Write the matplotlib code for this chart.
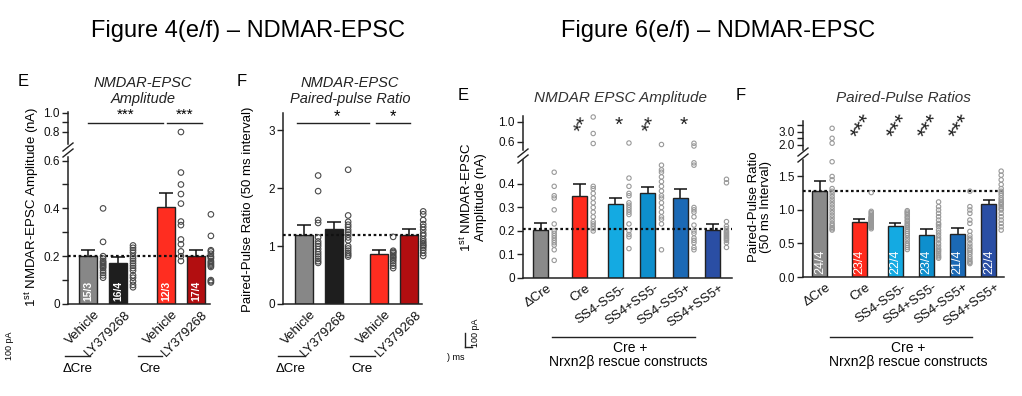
import numpy as np
import matplotlib
matplotlib.use("Agg")
import matplotlib.pyplot as plt
from matplotlib.lines import Line2D

plt.rcParams['font.family'] = ['Liberation Sans', 'DejaVu Sans']
plt.rcParams['mathtext.fontset'] = 'custom'
plt.rcParams['mathtext.rm'] = 'Liberation Sans'

# ---------------- data ----------------
fig4_labels = ["Vehicle", "LY379268", "Vehicle", "LY379268"]
fig4_groups = ["\u0394Cre", "Cre"]
fig4_colors = ["#878787", "#1e1e1e", "#ff2d20", "#b20e10"]

amp4_means = [0.20, 0.17, 0.405, 0.20]
amp4_sem = [0.025, 0.025, 0.06, 0.028]
amp4_n = ["15/3", "16/4", "12/3", "17/4"]
amp4_veh_dcre = [0.40, 0.26, 0.20, 0.19, 0.18, 0.175, 0.17, 0.165, 0.16, 0.155, 0.15, 0.14, 0.13, 0.12, 0.11]
amp4_ly_dcre = [0.245, 0.235, 0.225, 0.215, 0.20, 0.19, 0.18, 0.17, 0.16, 0.15, 0.14, 0.12, 0.11, 0.095, 0.08, 0.07]
amp4_veh_cre = [0.80, 0.55, 0.50, 0.46, 0.42, 0.345, 0.33, 0.27, 0.25, 0.22, 0.20, 0.18]
amp4_ly_cre = [0.375, 0.285, 0.225, 0.22, 0.21, 0.20, 0.195, 0.19, 0.18, 0.175, 0.17, 0.165, 0.16, 0.155, 0.10, 0.095, 0.09]
amp4_ref = 0.20

ppr4_means = [1.20, 1.30, 0.87, 1.20]
ppr4_sem = [0.16, 0.11, 0.06, 0.10]
ppr4_veh_dcre = [2.22, 1.95, 1.45, 1.40, 1.15, 1.08, 1.04, 1.00, 0.95, 0.90, 0.86, 0.82, 0.78, 0.74, 0.71]
ppr4_ly_dcre = [2.32, 1.53, 1.42, 1.37, 1.33, 1.28, 1.24, 1.20, 1.15, 1.10, 1.00, 0.96, 0.92, 0.88, 0.85, 0.82]
ppr4_veh_cre = [1.16, 0.92, 0.90, 0.88, 0.85, 0.82, 0.80, 0.77, 0.74, 0.70, 0.66, 0.62]
ppr4_ly_cre = [1.60, 1.55, 1.45, 1.38, 1.33, 1.28, 1.22, 1.18, 1.12, 1.08, 1.05, 1.02, 1.00, 0.97, 0.93, 0.88, 0.83]
ppr4_ref = 1.20

fig6_labels = ["\u0394Cre", "Cre", "SS4-SS5-", "SS4+SS5-", "SS4-SS5+", "SS4+SS5+"]
fig6_colors = ["#8a8a8a", "#ff2a1c", "#14aae2", "#0e8fcd", "#1b69b5", "#2a4ea4"]

amp6_means = [0.205, 0.35, 0.315, 0.36, 0.34, 0.205]
amp6_sem = [0.027, 0.05, 0.025, 0.027, 0.04, 0.023]
amp6_dcre = [0.45, 0.39, 0.35, 0.34, 0.29, 0.23, 0.20, 0.19, 0.18, 0.17, 0.16, 0.15, 0.14, 0.12, 0.075]
amp6_cre = [1.10, 0.77, 0.57, 0.39, 0.38, 0.36, 0.34, 0.32, 0.30, 0.28, 0.26, 0.24, 0.23, 0.22, 0.21, 0.20]
amp6_s4m5m = [0.58, 0.425, 0.39, 0.36, 0.35, 0.32, 0.31, 0.30, 0.29, 0.28, 0.27, 0.23, 0.20, 0.185, 0.175, 0.125]
amp6_s4p5m = [0.55, 0.48, 0.46, 0.45, 0.43, 0.41, 0.39, 0.37, 0.35, 0.34, 0.32, 0.30, 0.28, 0.26, 0.25, 0.23, 0.12]
amp6_s4m5p = [0.575, 0.52, 0.49, 0.48, 0.30, 0.29, 0.28, 0.26, 0.225, 0.20, 0.19, 0.17, 0.16, 0.15, 0.13, 0.12]
amp6_s4p5p = [0.42, 0.405, 0.24, 0.22, 0.21, 0.20, 0.195, 0.19, 0.185, 0.18, 0.175, 0.17, 0.165, 0.16, 0.15, 0.13]
amp6_ref = 0.21
amp6_stars = ["**", "*", "**", "*"]

ppr6_means = [1.28, 0.82, 0.76, 0.63, 0.64, 1.09]
ppr6_sem = [0.16, 0.04, 0.05, 0.08, 0.09, 0.06]
ppr6_n = ["24/4", "23/4", "22/4", "23/4", "21/4", "22/4"]
ppr6_dcre = [3.25, 2.5, 2.13, 1.72, 1.50, 1.45, 1.32, 1.28, 1.24, 1.20, 1.16, 1.12, 1.08, 1.04, 1.00, 0.96, 0.92, 0.88, 0.84, 0.80, 0.77, 0.74, 0.72, 0.70]
ppr6_cre = [1.26, 0.98, 0.96, 0.94, 0.92, 0.90, 0.89, 0.88, 0.87, 0.86, 0.85, 0.84, 0.83, 0.82, 0.81, 0.80, 0.79, 0.78, 0.77, 0.76, 0.75, 0.74, 0.72]
ppr6_s4m5m = [0.99, 0.97, 0.95, 0.93, 0.90, 0.88, 0.85, 0.83, 0.80, 0.78, 0.76, 0.74, 0.71, 0.68, 0.65, 0.62, 0.58, 0.54, 0.50, 0.47, 0.44, 0.41]
ppr6_s4p5m = [1.12, 1.05, 1.00, 0.95, 0.90, 0.85, 0.80, 0.78, 0.75, 0.70, 0.66, 0.62, 0.58, 0.55, 0.50, 0.46, 0.42, 0.40, 0.38, 0.35, 0.32, 0.30, 0.28]
ppr6_s4m5p = [1.28, 1.05, 1.00, 0.95, 0.85, 0.80, 0.68, 0.62, 0.58, 0.55, 0.50, 0.46, 0.42, 0.40, 0.37, 0.34, 0.30, 0.27, 0.24, 0.22, 0.20]
ppr6_s4p5p = [1.58, 1.52, 1.45, 1.38, 1.32, 1.28, 1.25, 1.22, 1.18, 1.15, 1.12, 1.10, 1.08, 1.05, 1.02, 1.00, 0.95, 0.90, 0.85, 0.80, 0.75, 0.70]
ppr6_ref = 1.29
ppr6_stars = ["***", "***", "***", "***"]

# ---------------- layout helpers ----------------
W, H = 1022, 396
fig = plt.figure(figsize=(W / 100, H / 100), dpi=100)
fig.patch.set_facecolor("white")
INK = "#222222"


def ax_px(x0, y0, x1, y1):
    return fig.add_axes([x0 / W, 1 - y1 / H, (x1 - x0) / W, (y1 - y0) / H])


def fx(x):
    return x / W


def fy(y):
    return 1 - y / H


def style(ax, bottom=True):
    ax.patch.set_alpha(0)
    for s in ["top", "right"]:
        ax.spines[s].set_visible(False)
    ax.spines["left"].set_linewidth(1.1)
    ax.spines["left"].set_color(INK)
    if bottom:
        ax.spines["bottom"].set_linewidth(1.1)
        ax.spines["bottom"].set_color(INK)
    else:
        ax.spines["bottom"].set_visible(False)
        ax.set_xticks([])
    ax.tick_params(axis="y", length=4, width=1.0, labelsize=8.5, pad=2, colors=INK)
    ax.tick_params(axis="y", labelcolor="#111111")
    ax.tick_params(axis="x", length=0)


def fline(x0, y0, x1, y1, lw=1.0, color=INK):
    fig.add_artist(Line2D([fx(x0), fx(x1)], [fy(y0), fy(y1)], lw=lw, color=color))


def ftext(x, y, s, **kw):
    fig.text(fx(x), fy(y), s, **kw)


def bars(ax, pos, means, sem, colors, width, cap):
    ax.bar(pos, means, width, color=colors, edgecolor=INK, linewidth=1.0, zorder=2)
    tops = [m + s for m, s in zip(means, sem)]
    ax.vlines(pos, means, tops, color="#111111", lw=1.1, zorder=1)
    ax.hlines(tops, [p - cap for p in pos], [p + cap for p in pos], color="#111111", lw=1.1, zorder=1)


def dots(ax_lo, ax_hi, x, vals, split, size, color):
    lo = [v for v in vals if v <= split]
    hi = [v for v in vals if v > split]
    ax_lo.scatter([x] * len(lo), lo, s=size, facecolors="none", edgecolors=color,
                  linewidths=0.8, zorder=4, clip_on=False)
    if ax_hi is not None and hi:
        ax_hi.scatter([x] * len(hi), hi, s=size, facecolors="none", edgecolors=color,
                      linewidths=0.8, zorder=4, clip_on=False)


def break_marks(x, y):
    for dy in (-3, 3):
        fline(x - 5, y + dy + 4, x + 5, y + dy - 4, lw=1.0)


def xlabels(ax, pos, labels, dx, fs, rot=45):
    ax.set_xticks([p + dx for p in pos])
    ax.set_xticklabels(labels, rotation=rot, ha="right", va="top",
                       rotation_mode="anchor", fontsize=fs, color="#111111")
    ax.tick_params(axis="x", pad=3)


# ---------------- main titles ----------------
ftext(248, 31, "Figure 4(e/f) \u2013 NDMAR-EPSC", fontsize=17, ha="center", va="center")
ftext(718, 31, "Figure 6(e/f) \u2013 NDMAR-EPSC", fontsize=17, ha="center", va="center")

# ================= Figure 4E =================
pos4 = [0, 1, 2.6, 3.6]
e4_lo = ax_px(68, 157, 210, 304)
e4_hi = ax_px(68, 112, 210, 144)
for a in (e4_lo, e4_hi):
    a.set_xlim(-0.67, 4.07)
style(e4_lo)
style(e4_hi, bottom=False)
e4_lo.set_ylim(0, 0.615)
e4_hi.set_ylim(0.674, 1.01)
e4_lo.set_yticks([0, 0.1, 0.2, 0.3, 0.4, 0.5, 0.6])
e4_lo.set_yticklabels(["0", "", "0.2", "", "0.4", "", "0.6"])
e4_hi.set_yticks([0.8, 0.9, 1.0])
e4_hi.set_yticklabels(["0.8", "", "1.0"])
bars(e4_lo, pos4, amp4_means, amp4_sem, fig4_colors, 0.6, 0.22)
e4_lo.axhline(amp4_ref, ls=(0, (1.2, 1.2)), color="#111111", lw=1.6, zorder=3)
for p, vals in zip(pos4, [amp4_veh_dcre, amp4_ly_dcre, amp4_veh_cre, amp4_ly_cre]):
    dots(e4_lo, e4_hi, p + 0.5, vals, 0.615, 16, "#4a4a4a")
for p, n in zip(pos4, amp4_n):
    e4_lo.text(p, 0.012, n, rotation=90, color="white", fontsize=7.5, ha="center",
               va="bottom", zorder=5, fontweight="bold")
xlabels(e4_lo, pos4, fig4_labels, 0.2, 9.5)
e4_hi.plot([0, 2.5], [0.895, 0.895], color=INK, lw=1.0, clip_on=False)
e4_hi.plot([2.63, 3.8], [0.895, 0.895], color=INK, lw=1.0, clip_on=False)
e4_hi.text(1.25, 0.905, "***", ha="center", va="bottom", fontsize=11, clip_on=False)
e4_hi.text(3.22, 0.905, "***", ha="center", va="bottom", fontsize=11, clip_on=False)
break_marks(68, 150)
ftext(18, 82, "E", fontsize=12, ha="left", va="center")
ftext(143, 91, "NMDAR-EPSC\nAmplitude", fontsize=10.5, style="italic", ha="center",
      va="center", linespacing=1.1, color="#222222")
ftext(32, 207, r"1$^{\rm st}$ NMDAR-EPSC Amplitude (nA)", fontsize=9.5, rotation=90,
      ha="center", va="center")
fline(65, 356, 90, 356)
fline(138, 356, 162, 356)
ftext(78, 369, "\u0394Cre", fontsize=9.5, ha="center", va="center")
ftext(150, 369, "Cre", fontsize=9.5, ha="center", va="center")

# ================= Figure 4F =================
pos4f = [0, 1, 2.5, 3.5]
f4 = ax_px(283, 113, 422, 304)
style(f4)
f4.set_xlim(-0.7, 3.93)
f4.set_ylim(0, 3.3)
f4.set_yticks([0, 1, 2, 3])
bars(f4, pos4f, ppr4_means, ppr4_sem, fig4_colors, 0.6, 0.22)
f4.axhline(ppr4_ref, ls=(0, (1.2, 1.2)), color="#111111", lw=1.6, zorder=3)
for p, vals in zip(pos4f, [ppr4_veh_dcre, ppr4_ly_dcre, ppr4_veh_cre, ppr4_ly_cre]):
    dots(f4, None, p + 0.47, vals, 99, 16, "#4a4a4a")
xlabels(f4, pos4f, fig4_labels, 0.2, 9.5)
f4.plot([-0.23, 2.17], [3.12, 3.12], color=INK, lw=1.0, clip_on=False)
f4.plot([2.4, 3.53], [3.12, 3.12], color=INK, lw=1.0, clip_on=False)
f4.text(1.1, 3.1, "*", ha="center", va="bottom", fontsize=12, clip_on=False)
f4.text(2.97, 3.1, "*", ha="center", va="bottom", fontsize=12, clip_on=False)
ftext(237, 82, "F", fontsize=12, ha="left", va="center")
ftext(350, 91, "NMDAR-EPSC\nPaired-pulse Ratio", fontsize=10.5, style="italic",
      ha="center", va="center", linespacing=1.1, color="#222222")
ftext(248, 209, "Paired-Pulse Ratio (50 ms interval)", fontsize=9.5, rotation=90,
      ha="center", va="center")
fline(278, 356, 305, 356)
fline(350, 356, 375, 356)
ftext(291, 369, "\u0394Cre", fontsize=9.5, ha="center", va="center")
ftext(362, 369, "Cre", fontsize=9.5, ha="center", va="center")

# scale bar fragments
ftext(9, 346, "100 pA", fontsize=6.5, rotation=90, ha="center", va="center")

# ================= Figure 6E =================
pos6e = [0, 1.2, 2.3, 3.3, 4.3, 5.3]
e6_lo = ax_px(523, 160, 732, 278)
e6_hi = ax_px(523, 116, 732, 150)
for a in (e6_lo, e6_hi):
    a.set_xlim(-0.54, 5.89)
style(e6_lo)
style(e6_hi, bottom=False)
e6_lo.set_ylim(0, 0.502)
e6_hi.set_ylim(0.44, 1.12)
e6_lo.set_yticks([0, 0.1, 0.2, 0.3, 0.4])
e6_lo.set_yticklabels(["0", "0.1", "0.2", "0.3", "0.4"])
e6_hi.set_yticks([0.6, 1.0])
e6_hi.set_yticklabels(["0.6", "1.0"])
bars(e6_lo, pos6e, amp6_means, amp6_sem, fig6_colors, 0.46, 0.2)
e6_lo.axhline(amp6_ref, ls=(0, (1.2, 1.2)), color="#111111", lw=1.6, zorder=3)
for p, vals in zip(pos6e, [amp6_dcre, amp6_cre, amp6_s4m5m, amp6_s4p5m, amp6_s4m5p, amp6_s4p5p]):
    dots(e6_lo, e6_hi, p + 0.42, vals, 0.502, 10, "#999999")
xlabels(e6_lo, pos6e, fig6_labels, 0.2, 9.5, rot=35)
for p, s in zip(pos6e[1:5], amp6_stars):
    rot = 65 if len(s) > 1 else 0
    e6_hi.text(p + 0.1, 0.94, s, ha="center", va="center", fontsize=15, rotation=rot,
               clip_on=False, color="#222222")
break_marks(523, 156)
ftext(458, 95, "E", fontsize=12, ha="left", va="center")
ftext(620, 98, "NMDAR EPSC Amplitude", fontsize=11, style="italic", ha="center",
      va="center", color="#333333")
ftext(473, 197, "1$^{\\rm st}$ NMDAR-EPSC\nAmplitude (nA)", fontsize=9.5, rotation=90,
      ha="center", va="center", linespacing=1.05)
fline(552, 337, 695, 337)
ftext(630, 348, "Cre +", fontsize=10, ha="center", va="center")
ftext(628, 362, "Nrxn2\u03b2 rescue constructs", fontsize=10, ha="center", va="center")
# scale bar fragment
fline(465, 333, 465, 347, lw=1.0)
fline(465, 347, 472, 347, lw=1.0)
ftext(476, 333, "100 pA", fontsize=6.5, rotation=90, ha="center", va="center")
ftext(456, 357, ") ms", fontsize=6.5, ha="center", va="center")

# ================= Figure 6F =================
pos6f = [0, 1.25, 2.4, 3.4, 4.4, 5.4]
f6_lo = ax_px(803, 160, 1004, 277)
f6_hi = ax_px(803, 121, 1004, 150)
for a in (f6_lo, f6_hi):
    a.set_xlim(-0.54, 5.88)
style(f6_lo)
style(f6_hi, bottom=False)
f6_lo.set_ylim(0, 1.746)
f6_hi.set_ylim(1.62, 3.8)
f6_lo.set_yticks([0, 0.5, 1.0, 1.5])
f6_lo.set_yticklabels(["0.0", "0.5", "1.0", "1.5"])
f6_hi.set_yticks([2.0, 2.5, 3.0, 3.5])
f6_hi.set_yticklabels(["2.0", "", "3.0", ""])
bars(f6_lo, pos6f, ppr6_means, ppr6_sem, fig6_colors, 0.48, 0.2)
f6_lo.axhline(ppr6_ref, ls=(0, (1.2, 1.2)), color="#111111", lw=1.6, zorder=3)
for p, vals in zip(pos6f, [ppr6_dcre, ppr6_cre, ppr6_s4m5m, ppr6_s4p5m, ppr6_s4m5p, ppr6_s4p5p]):
    dots(f6_lo, f6_hi, p + 0.39, vals, 1.746, 10, "#999999")
for p, n in zip(pos6f, ppr6_n):
    f6_lo.text(p, 0.04, n, rotation=90, color="white", fontsize=9, ha="center",
               va="bottom", zorder=5)
xlabels(f6_lo, pos6f, fig6_labels, 0.2, 9.5, rot=35)
for p, s in zip(pos6f[1:5], ppr6_stars):
    f6_hi.text(p + 0.12, 3.38, s, ha="center", va="center", fontsize=16, rotation=58,
               clip_on=False, color="#222222")
break_marks(803, 155)
ftext(736, 95, "F", fontsize=12, ha="left", va="center")
ftext(903, 98, "Paired-Pulse Ratios", fontsize=11, style="italic", ha="center",
      va="center", color="#333333")
ftext(760, 207, "Paired-Pulse Ratio\n(50 ms Interval)", fontsize=9.5, rotation=90,
      ha="center", va="center", linespacing=1.05)
fline(830, 337, 972, 337)
ftext(908, 348, "Cre +", fontsize=10, ha="center", va="center")
ftext(908, 362, "Nrxn2\u03b2 rescue constructs", fontsize=10, ha="center", va="center")

fig.savefig("out.png", dpi=100)
